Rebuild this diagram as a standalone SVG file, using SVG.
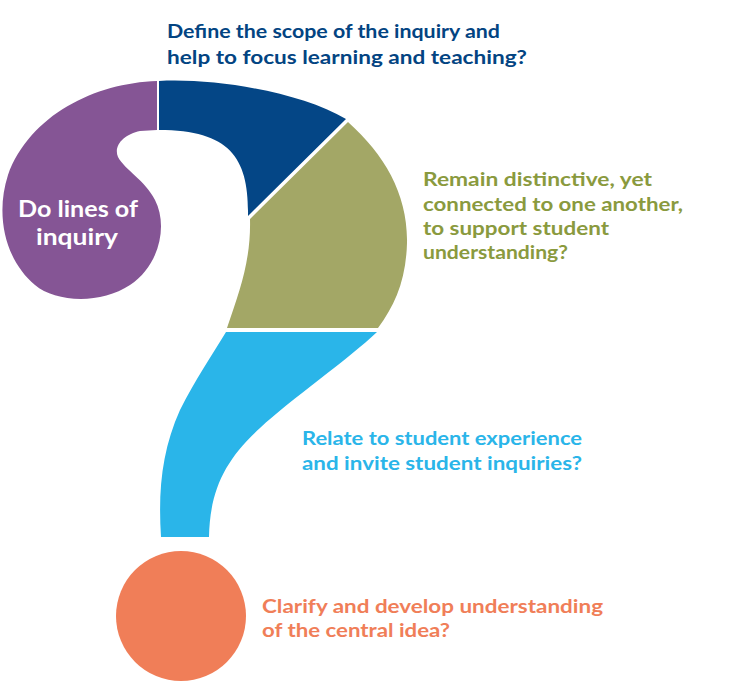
<svg xmlns="http://www.w3.org/2000/svg" width="736" height="682" viewBox="0 0 736 682">
<style>
text{font-family:Lato,"Open Sans","Liberation Sans",sans-serif;font-weight:700;font-size:19.5px;}
.w{fill:#ffffff;font-size:23px;}
.db{fill:#034482;}
.gr{fill:#8a9a3e;}
.lb{fill:#2ab5e9;}
.or{fill:#f07e58;}
</style>
<rect width="736" height="682" fill="#ffffff"/>
<g id="purple">
<path d="M157,81 C95,83 30,115 8,175 C-5,215 5,260 35,285 C55,302 100,305 130,285 C160,265 168,225 155,200 C145,180 125,170 118,157 C113,145 125,134 140,131 L157,130 Z" fill="#855595"/>
<text class="w" x="18" y="217" textLength="120" lengthAdjust="spacingAndGlyphs">Do lines of</text>
<text class="w" x="36" y="245" textLength="82" lengthAdjust="spacingAndGlyphs">inquiry</text>
</g>
<g id="darkblue">
<path d="M159,81 C215,78 300,92 346,119 L248,216 C249,160 232,130 159,130 Z" fill="#044686"/>
<text class="db" x="167" y="38" textLength="333" lengthAdjust="spacingAndGlyphs">Define the scope of the inquiry and</text>
<text class="db" x="167" y="64" textLength="360" lengthAdjust="spacingAndGlyphs">help to focus learning and teaching?</text>
</g>
<g id="green">
<path d="M348,122 C385,155 408,195 407,243 C406,280 395,305 378,328 L227,328 C240,290 251,260 250,219 Z" fill="#a3a766"/>
<text class="gr" x="423" y="186" textLength="229" lengthAdjust="spacingAndGlyphs">Remain distinctive, yet</text>
<text class="gr" x="423" y="211" textLength="260" lengthAdjust="spacingAndGlyphs">connected to one another,</text>
<text class="gr" x="423" y="235" textLength="186" lengthAdjust="spacingAndGlyphs">to support student</text>
<text class="gr" x="423" y="259" textLength="145" lengthAdjust="spacingAndGlyphs">understanding?</text>
</g>
<g id="lightblue">
<path d="M226,332 L377,332 C350,358 290,400 260,428 C225,460 210,490 209,537 L161,537 C158,490 162,450 180,410 C195,380 212,355 226,332 Z" fill="#2ab5e9"/>
<text class="lb" x="302" y="445" textLength="280" lengthAdjust="spacingAndGlyphs">Relate to student experience</text>
<text class="lb" x="302" y="470" textLength="280" lengthAdjust="spacingAndGlyphs">and invite student inquiries?</text>
</g>
<g id="orange">
<circle cx="181" cy="616" r="65" fill="#f07e58"/>
<text class="or" x="262" y="613" textLength="341" lengthAdjust="spacingAndGlyphs">Clarify and develop understanding</text>
<text class="or" x="262" y="637" textLength="188" lengthAdjust="spacingAndGlyphs">of the central idea?</text>
</g>
</svg>
